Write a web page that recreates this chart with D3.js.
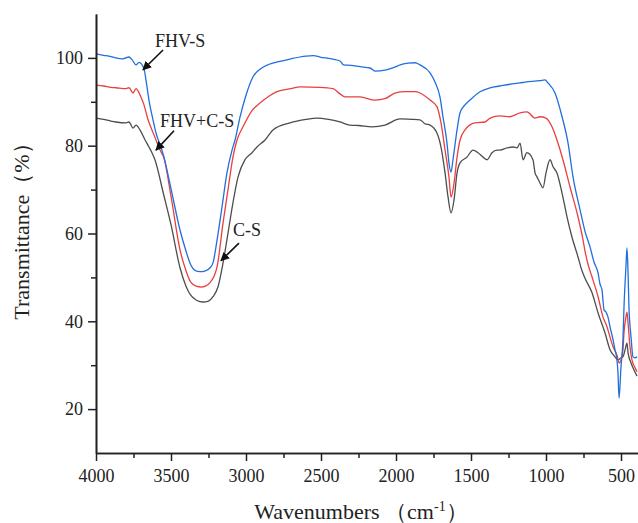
<!DOCTYPE html>
<html>
<head>
<meta charset="utf-8">
<script src="https://cdn.jsdelivr.net/npm/d3@7"></script>
<style>
  html, body { margin: 0; padding: 0; background: #fff; }
  svg { display: block; }
  text { font-family: "Liberation Serif", "Times New Roman", serif; fill: #222; }
</style>
</head>
<body>
<svg id="chart" width="638" height="523"></svg>
<script>
// ---------- DATA ----------
const xMajorTicks = [4000, 3500, 3000, 2500, 2000, 1500, 1000, 500];
const xMinorTicks = [3750, 3250, 2750, 2250, 1750, 1250, 750];
const yMajorTicks = [20, 40, 60, 80, 100];
const yMinorTicks = [30, 50, 70, 90];

const seriesNames = ["FHV-S", "FHV+C-S", "C-S"];
const seriesColors = ["#1f6fde", "#e8403e", "#4d4d4d"];

// FHV-S (blue)
const fhvsWn = [4000,3950,3900,3867,3820,3780,3760,3733,3713,3680,3667,3647,3620,3600,3567,3547,3500,3440,3400,3370,3340,3307,3270,3240,3220,3193,3160,3127,3093,3073,3040,3000,2953,2900,2850,2773,2700,2600,2550,2507,2420,2373,2350,2300,2240,2173,2140,2073,2000,1973,1920,1873,1840,1773,1740,1707,1687,1660,1647,1633,1620,1593,1573,1540,1507,1440,1373,1307,1240,1173,1140,1040,1007,987,940,893,853,820,773,740,707,680,653,640,627,613,600,587,573,553,540,527,520,513,500,487,480,467,460,453,447,433,420,407,393];
const fhvsT  = [100.9,100.6,100.3,100.0,99.8,100.2,99.6,98.4,99.0,97.5,95.0,90.4,85.9,82.9,79.7,77.4,70.2,60.8,56.0,53.0,51.6,51.3,51.5,52.2,53.3,58.5,66.0,73.8,79.0,81.3,86.5,91.5,95.7,97.6,98.5,99.2,99.8,100.4,100.5,100.2,99.7,99.3,98.4,98.3,98.0,97.7,97.0,97.2,98.0,98.4,98.8,98.9,98.4,96.6,94.5,91.1,86.6,80.6,76.1,74.0,76.8,83.6,87.5,89.3,90.4,92.3,93.2,93.6,94.0,94.3,94.5,94.8,95.0,94.3,92.0,86.6,80.6,72.9,65.4,60.5,57.0,53.5,51.0,48.5,47.2,42.6,42.1,41.0,38.7,35.8,33.5,31.2,28.2,22.5,29.6,35.8,43.3,52.4,56.7,51.0,43.3,36.4,31.9,31.7,31.9];

// FHV+C-S (red)
const fhvcsWn = [4000,3950,3900,3867,3800,3780,3753,3733,3720,3707,3680,3653,3627,3600,3573,3547,3500,3440,3400,3370,3330,3300,3270,3240,3210,3193,3153,3120,3087,3060,3020,2960,2907,2850,2793,2700,2640,2507,2420,2373,2340,2240,2140,2073,2007,1940,1873,1840,1773,1727,1700,1673,1647,1633,1613,1593,1573,1540,1473,1407,1373,1307,1240,1173,1127,1073,1040,1000,960,927,887,840,793,753,740,720,693,653,620,593,573,553,527,513,500,487,480,467,460,453,440,427,407,393];
const fhvcsT  = [93.8,93.6,93.3,93.2,93.0,93.2,92.0,93.0,92.5,91.6,89.3,85.9,83.6,81.3,79.0,77.2,68.5,56.3,51.5,49.0,48.0,47.8,48.0,48.8,50.5,52.4,62.4,70.0,77.4,81.3,84.3,88.0,89.7,91.2,92.3,93.0,93.4,93.3,93.0,91.8,91.1,91.1,90.4,90.7,92.0,92.3,92.3,92.0,90.4,88.9,85.2,79.0,72.9,68.3,71.5,77.4,81.3,83.6,85.2,85.4,86.3,86.8,86.6,87.5,87.7,86.3,86.6,86.3,84.3,81.3,76.8,70.6,64.7,58.5,56.0,53.0,50.1,45.6,41.0,38.7,36.4,34.2,32.3,30.5,31.2,33.5,37.4,41.0,42.1,39.6,34.2,31.2,29.5,28.5];

// C-S (dark grey)
const csWn = [4000,3950,3900,3867,3800,3780,3753,3733,3707,3673,3647,3627,3607,3550,3500,3440,3400,3370,3330,3287,3250,3220,3187,3153,3120,3087,3053,3007,2960,2927,2873,2820,2707,2600,2527,2450,2373,2307,2250,2160,2073,1973,1900,1840,1807,1773,1727,1700,1673,1653,1633,1613,1593,1573,1527,1487,1453,1420,1393,1360,1327,1307,1260,1220,1193,1173,1153,1127,1087,1073,1060,1040,1020,1000,973,953,927,893,860,827,787,760,740,693,653,607,573,540,520,500,487,473,460,453,433,420,393];
const csT  = [86.3,86.0,85.6,85.4,85.2,85.4,84.0,84.7,83.6,81.3,79.7,78.4,76.8,69.0,62.0,52.2,48.0,46.0,44.8,44.4,44.6,45.6,47.8,53.3,60.1,67.0,72.9,76.8,78.4,79.7,81.3,83.6,85.2,86.0,86.3,86.0,85.4,84.7,84.6,84.3,84.7,86.1,86.0,85.9,85.0,84.7,82.9,79.7,73.8,68.3,64.7,67.7,73.8,76.1,77.4,79.0,78.4,77.4,76.8,78.4,79.0,79.0,79.5,79.7,79.5,80.6,76.8,78.4,76.8,73.8,72.9,71.5,70.4,73.8,76.8,75.2,73.8,69.2,63.8,59.2,54.7,51.5,49.8,46.5,41.9,37.4,33.5,31.9,31.2,31.7,31.9,33.5,35.0,32.8,30.5,29.4,27.5];

// ---------- CHART ----------
const svg = d3.select("#chart");
const x = d3.scaleLinear().domain([4000, 390]).range([96, 637.5]);
const y = d3.scaleLinear().domain([10, 110]).range([453, 14]);

const series = [
  {name: seriesNames[0], color: seriesColors[0], wn: fhvsWn, t: fhvsT},
  {name: seriesNames[1], color: seriesColors[1], wn: fhvcsWn, t: fhvcsT},
  {name: seriesNames[2], color: seriesColors[2], wn: csWn, t: csT}
];

const line = d3.line()
  .x(d => x(d[0]))
  .y(d => y(d[1]))
  .curve(d3.curveMonotoneX);

const plot = svg.append("g");
series.slice().reverse().forEach(s => {
  const pts = s.wn.map((w, i) => [w, s.t[i]]);
  plot.append("path")
    .attr("d", line(pts))
    .attr("fill", "none")
    .attr("stroke", s.color)
    .attr("stroke-width", 1.3)
    .attr("stroke-linejoin", "round");
});

// axes
const fontSize = 18;
const xAxis = svg.append("g").attr("transform", `translate(0,${y(10)})`)
  .call(d3.axisBottom(x).tickValues(xMajorTicks).tickSize(8).tickSizeOuter(0).tickPadding(4).tickFormat(d3.format("d")));
svg.append("g").attr("transform", `translate(0,${y(10)})`)
  .call(d3.axisBottom(x).tickValues(xMinorTicks).tickSize(5).tickSizeOuter(0).tickFormat(""));
const yAxis = svg.append("g").attr("transform", `translate(${x(4000)},0)`)
  .call(d3.axisLeft(y).tickValues(yMajorTicks).tickSize(8).tickSizeOuter(0).tickPadding(5).tickFormat(d3.format("d")));
svg.append("g").attr("transform", `translate(${x(4000)},0)`)
  .call(d3.axisLeft(y).tickValues(yMinorTicks).tickSize(5).tickSizeOuter(0).tickFormat(""));

svg.selectAll(".domain").attr("stroke", "#222").attr("stroke-width", 1.6);
svg.selectAll(".tick line").attr("stroke", "#222").attr("stroke-width", 1.5);
svg.selectAll(".tick text")
  .style("font-family", '"Liberation Serif", serif')
  .style("font-size", fontSize + "px")
  .attr("fill", "#222");
xAxis.selectAll(".tick text").attr("dy", "0.95em");

// axis titles
svg.append("text")
  .attr("transform", `translate(29,226) rotate(-90)`)
  .attr("text-anchor", "middle")
  .style("font-size", "22px")
  .text("Transmittance（%）");

const xt = svg.append("text")
  .attr("x", 361).attr("y", 519)
  .attr("text-anchor", "middle")
  .style("font-size", "22px");
xt.append("tspan").text("Wavenumbers （cm");
xt.append("tspan").attr("dy", -8).style("font-size", "14px").text("-1");
xt.append("tspan").attr("dy", 8).text("）");

// annotations with arrows
svg.append("defs").append("marker")
  .attr("id", "arrow").attr("viewBox", "0 0 10 10")
  .attr("refX", 9).attr("refY", 5)
  .attr("markerWidth", 9).attr("markerHeight", 9)
  .attr("markerUnits", "userSpaceOnUse")
  .attr("orient", "auto")
  .append("path").attr("d", "M0,0 L10,5 L0,10 Z").attr("fill", "#111");

const annots = [
  {label: seriesNames[0], tx: 3607, ty: 102.5, from: [3553, 101.8], to: [3687, 97.3]},
  {label: seriesNames[1], tx: 3573, ty: 84.3, from: [3480, 83.4], to: [3600, 79.0]},
  {label: seriesNames[2], tx: 3087, ty: 59.4, from: [3047, 57.8], to: [3167, 53.8]}
];
annots.forEach(a => {
  svg.append("text").attr("x", x(a.tx)).attr("y", y(a.ty))
    .style("font-size", "18px").text(a.label);
  svg.append("line")
    .attr("x1", x(a.from[0])).attr("y1", y(a.from[1]))
    .attr("x2", x(a.to[0])).attr("y2", y(a.to[1]))
    .attr("stroke", "#111").attr("stroke-width", 1.6)
    .attr("marker-end", "url(#arrow)");
});
</script>
</body>
</html>
